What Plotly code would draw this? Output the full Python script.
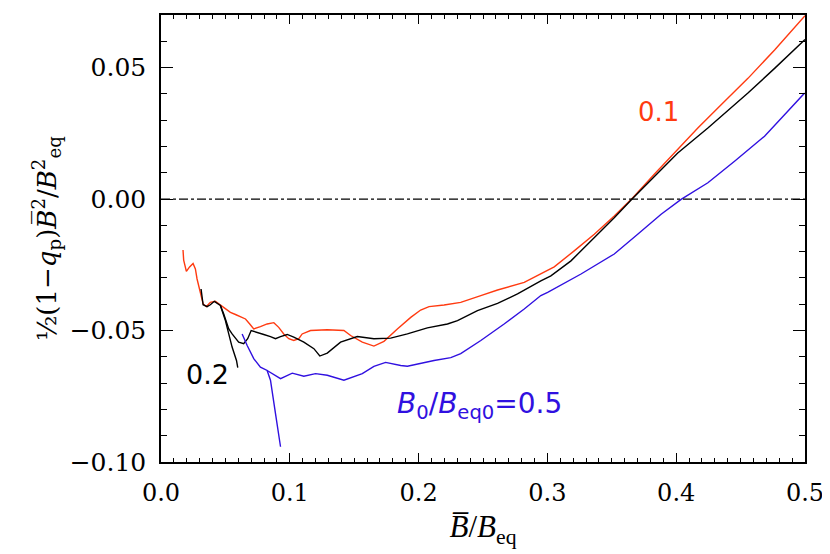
import plotly.graph_objects as go

# curve for B0/Beq0 = 0.1 (red)
x_01 = [0.0171, 0.0176, 0.0197, 0.0222, 0.0249, 0.0267, 0.0280, 0.0300, 0.0327, 0.0352,
        0.0383, 0.0422, 0.0461, 0.0500, 0.0539, 0.0578, 0.0617, 0.0656, 0.0689, 0.0720,
        0.0772, 0.0824, 0.0876, 0.0914, 0.0953, 0.0992, 0.1031, 0.1070, 0.1096, 0.1161,
        0.1291, 0.1420, 0.1472, 0.1563, 0.1653, 0.1731, 0.1835, 0.1939, 0.2016, 0.2081,
        0.2198, 0.2327, 0.2483, 0.2613, 0.2820, 0.2949, 0.3053, 0.3208, 0.3364, 0.3519,
        0.3663, 0.3830, 0.3986, 0.4168, 0.4349, 0.4557, 0.4764, 0.4946, 0.5000]
y_01 = [-0.0194, -0.0232, -0.0275, -0.0258, -0.0245, -0.0266, -0.0304, -0.0348, -0.0399, -0.0409,
        -0.0393, -0.0389, -0.0402, -0.0418, -0.0431, -0.0439, -0.0447, -0.0456, -0.0475, -0.0494,
        -0.0485, -0.0475, -0.0470, -0.0488, -0.0513, -0.0531, -0.0538, -0.0531, -0.0513, -0.0500,
        -0.0497, -0.0500, -0.0519, -0.0544, -0.0559, -0.0541, -0.0494, -0.0450, -0.0422, -0.0409,
        -0.0403, -0.0393, -0.0367, -0.0346, -0.0317, -0.0285, -0.0258, -0.0197, -0.0134, -0.0064,
        0.0005, 0.0094, 0.0175, 0.0270, 0.0359, 0.0459, 0.0567, 0.0668, 0.0697]

# curve for B0/Beq0 = 0.2 (black), main branch and short hook
x_02 = [0.0311, 0.0327, 0.0358, 0.0383, 0.0414, 0.0440, 0.0461, 0.0487, 0.0526, 0.0552,
        0.0603, 0.0642, 0.0673, 0.0700, 0.0747, 0.0798, 0.0850, 0.0889, 0.0928, 0.0980,
        0.1031, 0.1109, 0.1187, 0.1233, 0.1291, 0.1394, 0.1524, 0.1653, 0.1783, 0.1913,
        0.2068, 0.2224, 0.2302, 0.2457, 0.2613, 0.2768, 0.2949, 0.3027, 0.3183, 0.3364,
        0.3519, 0.3663, 0.3830, 0.4012, 0.4246, 0.4557, 0.4764, 0.4997, 0.5000,
        None, 0.0461, 0.0500, 0.0526, 0.0552, 0.0586, 0.0596]
y_02 = [-0.0342, -0.0402, -0.0409, -0.0402, -0.0389, -0.0397, -0.0405, -0.0437, -0.0494, -0.0513,
        -0.0544, -0.0550, -0.0531, -0.0500, -0.0506, -0.0515, -0.0523, -0.0531, -0.0523, -0.0515,
        -0.0525, -0.0544, -0.0569, -0.0597, -0.0586, -0.0544, -0.0523, -0.0531, -0.0529, -0.0513,
        -0.0490, -0.0475, -0.0462, -0.0424, -0.0397, -0.0361, -0.0311, -0.0292, -0.0235, -0.0147,
        -0.0071, 0.0003, 0.0087, 0.0175, 0.0270, 0.0403, 0.0497, 0.0605, 0.0607,
        None, -0.0405, -0.0462, -0.0513, -0.0563, -0.0614, -0.0641]

# curve for B0/Beq0 = 0.5 (blue), hook then main branch
x_05 = [0.0630, 0.0669, 0.0720, 0.0772, 0.0824, 0.0850, 0.0889, 0.0928,
        None, 0.0824, 0.0928, 0.1019, 0.1109, 0.1200, 0.1291, 0.1420, 0.1563, 0.1653, 0.1744,
        0.1861, 0.1913, 0.2120, 0.2250, 0.2327, 0.2483, 0.2664, 0.2820, 0.2949, 0.3002,
        0.3261, 0.3519, 0.3701, 0.3883, 0.4038, 0.4246, 0.4453, 0.4686, 0.4841, 0.4997]
y_05 = [-0.0513, -0.0557, -0.0607, -0.0639, -0.0652, -0.0689, -0.0816, -0.0942,
        None, -0.0652, -0.0683, -0.0662, -0.0674, -0.0664, -0.0670, -0.0689, -0.0664, -0.0636, -0.0621,
        -0.0633, -0.0636, -0.0614, -0.0603, -0.0588, -0.0538, -0.0475, -0.0418, -0.0367, -0.0355,
        -0.0285, -0.0209, -0.0134, -0.0058, -0.0001, 0.0062, 0.0144, 0.0239, 0.0321, 0.0403]

x_ticks = [0.0, 0.1, 0.2, 0.3, 0.4, 0.5]
y_ticks = [-0.10, -0.05, 0.00, 0.05]

RED = "#ff3a10"
BLUE = "#3010e0"

fig = go.Figure()
fig.add_trace(go.Scatter(x=x_01, y=y_01, mode="lines", line=dict(color=RED, width=1.4)))
fig.add_trace(go.Scatter(x=x_02, y=y_02, mode="lines", line=dict(color="black", width=1.4)))
fig.add_trace(go.Scatter(x=x_05, y=y_05, mode="lines", line=dict(color=BLUE, width=1.4)))

# dash-dot zero line
fig.add_shape(type="line", xref="paper", x0=0, x1=1, yref="y", y0=0, y1=0,
              line=dict(color="black", width=1.2, dash="dashdot"))

fig.add_annotation(x=0.386, y=0.033, text="0.1", showarrow=False,
                   font=dict(family="DejaVu Sans", size=26, color=RED))
fig.add_annotation(x=0.036, y=-0.0668, text="0.2", showarrow=False,
                   font=dict(family="DejaVu Sans", size=27, color="black"))
fig.add_annotation(x=0.2475, y=-0.0785,
                   text="<i>B</i><sub>0</sub>/<i>B</i><sub>eq0</sub>=0.5", showarrow=False,
                   font=dict(family="DejaVu Sans", size=28, color=BLUE))

axis_common = dict(
    showline=True, linecolor="black", linewidth=1.5, mirror="ticks",
    ticks="inside", tickcolor="black", tickwidth=1.2,
    showgrid=False, zeroline=False,
)

# page body has an 8px default margin, so the figure is a bit smaller than the window
fig.update_layout(
    width=822, height=546,
    margin=dict(l=153, r=25, t=5, b=92),
    plot_bgcolor="white", paper_bgcolor="white",
    showlegend=False,
    xaxis=dict(
        range=[0, 0.5], tickvals=x_ticks, tickformat=".1f", ticklen=9,
        minor=dict(dtick=0.01, ticklen=4.5, tickcolor="black", tickwidth=1, ticks="inside"),
        tickfont=dict(family="DejaVu Serif", size=24, color="black"),
        ticklabelstandoff=8,
        title=dict(text="<i>B\u0305</i>/<i>B</i><sub>eq</sub>", standoff=10,
                   font=dict(family="Liberation Serif", size=31, color="black")),
        **axis_common,
    ),
    yaxis=dict(
        range=[-0.10, 0.07], tickvals=y_ticks, tickformat=".2f", ticklen=12,
        minor=dict(dtick=0.01, ticklen=6, tickcolor="black", tickwidth=1, ticks="inside"),
        tickfont=dict(family="DejaVu Serif", size=25, color="black"),
        ticklabelstandoff=8,
        title=dict(text="\u00bd(1\u2212<i>q</i><sub>p</sub>)<i>B\u0305</i><sup>2</sup>/<i>B</i><sup>2</sup><sub>eq</sub>",
                   standoff=6,
                   font=dict(family="DejaVu Serif", size=26, color="black")),
        **axis_common,
    ),
)

fig.write_html("out.html")
